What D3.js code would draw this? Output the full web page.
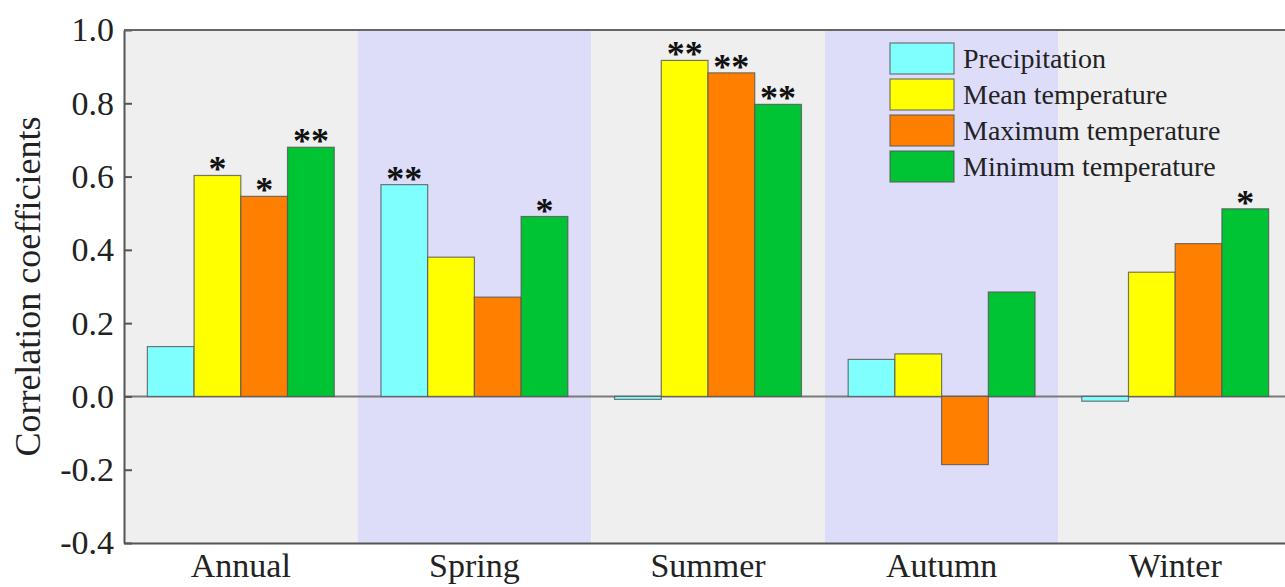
<!DOCTYPE html>
<html><head><meta charset="utf-8">
<script src="https://cdn.jsdelivr.net/npm/d3@7"></script>
<style>html,body{margin:0;padding:0;background:#fff;overflow:hidden}svg{display:block}</style>
</head><body>
<script>
const categories = ["Annual","Spring","Summer","Autumn","Winter"];
const series = ["Precipitation","Mean temperature","Maximum temperature","Minimum temperature"];
const precipitation = [0.136, 0.578, -0.008, 0.101, -0.013];
const meanTemp = [0.603, 0.380, 0.917, 0.116, 0.339];
const maxTemp = [0.546, 0.271, 0.883, -0.186, 0.417];
const minTemp = [0.680, 0.491, 0.797, 0.285, 0.512];
const precipSig = ["", "**", "", "", ""];
const meanSig = ["*", "", "**", "", ""];
const maxSig = ["*", "", "**", "", ""];
const minSig = ["**", "*", "**", "", "*"];
const yTicks = [-0.4, -0.2, 0.0, 0.2, 0.4, 0.6, 0.8, 1.0];
const yTickLabels = ["-0.4", "-0.2", "0.0", "0.2", "0.4", "0.6", "0.8", "1.0"];
const colors = ["#80FFFF", "#FFFF00", "#FF8000", "#00C434"];
const bandColors = ["#EFEFEF", "#DDDDFA"];

const values = [precipitation, meanTemp, maxTemp, minTemp];
const sigs = [precipSig, meanSig, maxSig, minSig];

const W = 1285, H = 587;
const svg = d3.select("body").append("svg").attr("width", W).attr("height", H);
const font = "'Liberation Serif', 'Times New Roman', serif";

const x = d3.scaleBand().domain(categories).range([124, 1292]).padding(0);
const xs = d3.scaleBand().domain(series).range([0, x.bandwidth()]).paddingInner(0).paddingOuter(0.5);
const y = d3.scaleLinear().domain([-0.4, 1.0]).range([543, 30]);

// background bands
svg.append("g").selectAll("rect").data(categories).join("rect")
  .attr("x", d => x(d)).attr("y", y(1.0))
  .attr("width", x.bandwidth()).attr("height", y(-0.4) - y(1.0))
  .attr("fill", (d, i) => bandColors[i % 2]);

const data = [];
categories.forEach((c, ci) => series.forEach((s, si) => data.push({c, s, si, v: values[si][ci], sig: sigs[si][ci]})));

// zero line
svg.append("line").attr("x1", x.range()[0]).attr("x2", x.range()[1])
  .attr("y1", y(0)).attr("y2", y(0)).attr("stroke", "#7a7a7a").attr("stroke-width", 2);

// bars
svg.append("g").selectAll("rect").data(data).join("rect")
  .attr("x", d => x(d.c) + xs(d.s))
  .attr("y", d => y(Math.max(0, d.v)))
  .attr("width", xs.bandwidth())
  .attr("height", d => Math.abs(y(d.v) - y(0)))
  .attr("fill", d => colors[d.si])
  .attr("stroke", "#555").attr("stroke-opacity", 0.8).attr("stroke-width", 1.2);

// significance stars
svg.append("g").selectAll("text").data(data.filter(d => d.sig)).join("text")
  .attr("x", d => x(d.c) + xs(d.s) + xs.bandwidth() / 2)
  .attr("y", d => y(d.v) + 6)
  .attr("text-anchor", "middle")
  .attr("font-family", font).attr("font-size", 36).attr("font-weight", "bold")
  .attr("fill", "#111")
  .text(d => d.sig);

// axes
const yAxis = d3.axisLeft(y).tickValues(yTicks).tickSizeInner(-8).tickSizeOuter(0).tickPadding(10)
  .tickFormat((d, i) => yTickLabels[i]);
const gy = svg.append("g").attr("transform", `translate(${x.range()[0]},0)`).call(yAxis);
gy.select(".domain").attr("stroke", "#555").attr("stroke-width", 2);
gy.selectAll(".tick line").attr("stroke", "#555").attr("stroke-width", 2);
gy.selectAll(".tick text").attr("font-family", font).attr("font-size", 34).attr("fill", "#222");

const xAxis = d3.axisBottom(x).tickSize(0);
const gx = svg.append("g").attr("transform", `translate(0,${y(-0.4)})`).call(xAxis);
gx.select(".domain").attr("stroke", "#555").attr("stroke-width", 2);
gx.selectAll(".tick text").attr("font-family", font).attr("font-size", 34).attr("fill", "#222")
  .attr("y", 34).attr("dy", 0);

// top border
svg.append("line").attr("x1", x.range()[0]).attr("x2", x.range()[1])
  .attr("y1", y(1.0)).attr("y2", y(1.0)).attr("stroke", "#666").attr("stroke-width", 2);

// y title
svg.append("text").attr("transform", `translate(40,${(y(1.0) + y(-0.4)) / 2}) rotate(-90)`)
  .attr("text-anchor", "middle").attr("font-family", font).attr("font-size", 36).attr("fill", "#222")
  .text("Correlation coefficients");

// legend
const lg = svg.append("g").attr("transform", "translate(890,43)");
const items = lg.selectAll("g").data(series).join("g").attr("transform", (d, i) => `translate(0,${i * 36})`);
items.append("rect").attr("width", 64).attr("height", 31)
  .attr("fill", (d, i) => colors[i]).attr("stroke", "#555").attr("stroke-opacity", 0.8).attr("stroke-width", 1.2);
items.append("text").attr("x", 73).attr("y", 25).attr("font-family", font).attr("font-size", 28).attr("fill", "#222")
  .text(d => d);
</script>
</body></html>
